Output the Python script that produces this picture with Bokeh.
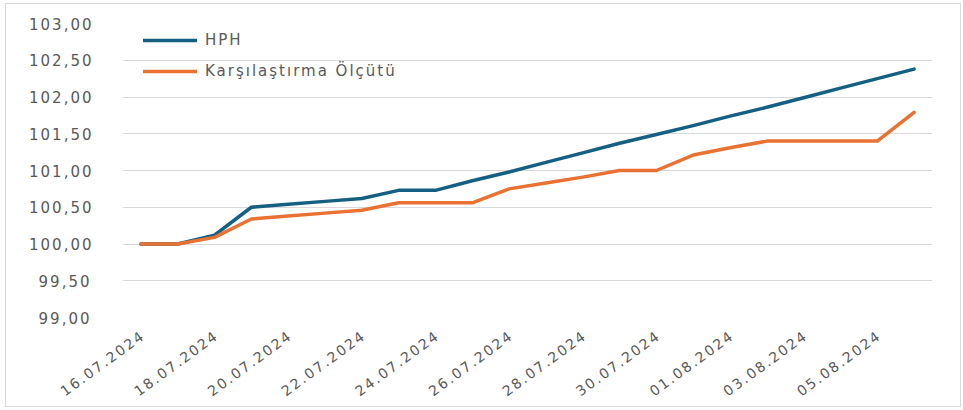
from math import pi
from bokeh.plotting import figure
from bokeh.models import FixedTicker, ColumnDataSource, Legend, LegendItem
from bokeh.embed import file_html
from bokeh.resources import INLINE

dates = ["16.07.2024", "17.07.2024", "18.07.2024", "19.07.2024", "20.07.2024", "21.07.2024",
         "22.07.2024", "23.07.2024", "24.07.2024", "25.07.2024", "26.07.2024", "27.07.2024",
         "28.07.2024", "29.07.2024", "30.07.2024", "31.07.2024", "01.08.2024", "02.08.2024",
         "03.08.2024", "04.08.2024", "05.08.2024", "06.08.2024"]
hph = [100.00, 100.00, 100.12, 100.50, 100.54, 100.58, 100.62, 100.73, 100.73, 100.86, 100.98,
       101.11, 101.24, 101.37, 101.49, 101.61, 101.74, 101.86, 101.99, 102.12, 102.25, 102.38]
benchmark = [100.00, 100.00, 100.09, 100.34, 100.38, 100.42, 100.46, 100.56, 100.56, 100.56, 100.75,
             100.83, 100.91, 101.00, 101.00, 101.21, 101.31, 101.40, 101.40, 101.40, 101.40, 101.79]
y_ticks = [99.0, 99.5, 100.0, 100.5, 101.0, 101.5, 102.0, 102.5, 103.0]
series_names = ["HPH", "Karşılaştırma Ölçütü"]

FONT = "DejaVu Sans"
TXT = "#595959"
LABEL_SHIFT = 0.38  # compensates letter-spacing overshoot of rotated labels

idx = list(range(len(dates)))
src = ColumnDataSource(dict(x=idx, hph=hph, bm=benchmark))

p = figure(width=956, height=404, output_backend="svg", toolbar_location=None,
           x_range=(-0.5, len(dates) - 0.5), y_range=(99.0, 103.0),
           min_border_left=116, min_border_right=30, min_border_top=19, min_border_bottom=91)
p.margin = (3, 0, 0, 5)
p.styles = {"border": "1px solid #D9D9D9", "letter-spacing": "2px"}
p.outline_line_color = None
p.background_fill_color = "white"
p.border_fill_color = "white"

r1 = p.line("x", "hph", source=src, line_color="#156082", line_width=3.5, line_cap="round", line_join="round")
r2 = p.line("x", "bm", source=src, line_color="#E97132", line_width=3.5, line_cap="round", line_join="round")

p.xgrid.grid_line_color = None
p.ygrid.grid_line_color = "#D9D9D9"
p.ygrid.grid_line_width = 1

p.yaxis.ticker = FixedTicker(ticks=y_ticks)
p.yaxis.major_label_overrides = {t: f"{t:.2f}".replace(".", ",") for t in y_ticks}
xt = [round(i - LABEL_SHIFT, 2) for i in idx[::2]]
p.xaxis.ticker = FixedTicker(ticks=xt)
p.xaxis.major_label_overrides = {t: dates[i] for t, i in zip(xt, idx[::2])}
p.xaxis.major_label_orientation = 0.63

for ax in (p.xaxis[0], p.yaxis[0]):
    ax.axis_line_color = None
    ax.major_tick_line_color = None
    ax.minor_tick_line_color = None
    ax.major_tick_in = 0
    ax.major_tick_out = 0
    ax.major_label_text_font = FONT
    ax.major_label_text_color = TXT
p.yaxis.major_label_text_font_size = "15px"
p.xaxis.major_label_text_font_size = "14px"
p.yaxis.major_label_standoff = 41
p.xaxis.major_label_standoff = 28

legend = Legend(items=[LegendItem(label=series_names[0], renderers=[r1]),
                       LegendItem(label=series_names[1], renderers=[r2])],
                location=(21, 236), orientation="vertical")
legend.margin = 0
legend.padding = 0
legend.spacing = 11
legend.glyph_width = 54
legend.glyph_height = 20
legend.label_standoff = 8
legend.label_text_font = FONT
legend.label_text_font_size = "15px"
legend.label_text_color = TXT
legend.background_fill_alpha = 0
legend.border_line_color = None
p.add_layout(legend, "center")

open("out.html", "w").write(file_html(p, INLINE))
